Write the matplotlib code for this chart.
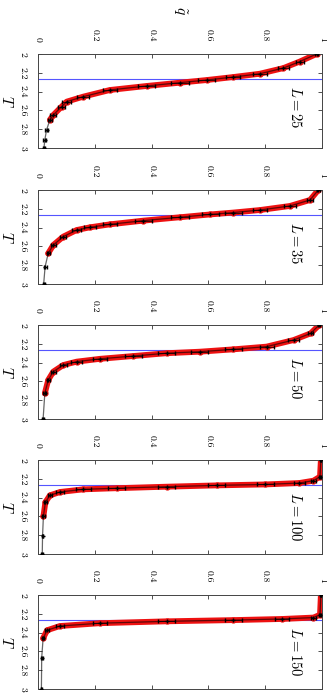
import matplotlib

matplotlib.use("Agg")
import matplotlib.pyplot as plt

plt.rcParams["mathtext.fontset"] = "cm"
plt.rcParams["font.family"] = "serif"
plt.rcParams["font.serif"] = ["cmr10", "DejaVu Serif"]
plt.rcParams["axes.formatter.use_mathtext"] = True

# data: temperature T and overlap q~ for each size L
sizes = [25, 35, 50, 100, 150]
Tc = 2.269

T_25 = [2.0, 2.08, 2.15, 2.21, 2.245, 2.277, 2.305, 2.34, 2.383, 2.454, 2.507, 2.56, 2.649, 2.70, 2.809, 2.915, 3.0]
q_25 = [0.981, 0.922, 0.864, 0.781, 0.688, 0.594, 0.500, 0.383, 0.253, 0.159, 0.101, 0.083, 0.054, 0.042, 0.030, 0.024, 0.021]
e_25 = [0.005, 0.015, 0.02, 0.025, 0.025, 0.03, 0.03, 0.03, 0.025, 0.02, 0.015, 0.012, 0.01, 0.008, 0.006, 0.005, 0.004]

T_35 = [2.0, 2.106, 2.17, 2.213, 2.24, 2.26, 2.29, 2.326, 2.365, 2.397, 2.426, 2.496, 2.585, 2.674, 2.816, 3.0]
q_35 = [0.987, 0.958, 0.887, 0.782, 0.688, 0.606, 0.500, 0.371, 0.254, 0.183, 0.136, 0.089, 0.054, 0.036, 0.025, 0.020]
e_35 = [0.005, 0.012, 0.02, 0.025, 0.03, 0.03, 0.03, 0.03, 0.025, 0.02, 0.015, 0.01, 0.008, 0.006, 0.005, 0.004]

T_50 = [2.0, 2.089, 2.16, 2.23, 2.259, 2.284, 2.30, 2.33, 2.36, 2.39, 2.426, 2.496, 2.585, 2.727, 3.0]
q_50 = [0.990, 0.960, 0.900, 0.805, 0.688, 0.570, 0.453, 0.336, 0.218, 0.136, 0.089, 0.054, 0.036, 0.024, 0.018]
e_50 = [0.004, 0.01, 0.02, 0.025, 0.03, 0.03, 0.03, 0.03, 0.025, 0.02, 0.012, 0.008, 0.006, 0.005, 0.004]

T_100 = [2.0, 2.177, 2.22, 2.245, 2.26, 2.27, 2.284, 2.30, 2.312, 2.34, 2.376, 2.45, 2.6, 2.81, 3.0]
q_100 = [0.996, 0.993, 0.970, 0.920, 0.800, 0.630, 0.453, 0.277, 0.160, 0.078, 0.042, 0.026, 0.019, 0.016, 0.015]
e_100 = [0.002, 0.004, 0.01, 0.02, 0.03, 0.03, 0.03, 0.03, 0.025, 0.015, 0.008, 0.005, 0.004, 0.003, 0.003]

T_150 = [2.0, 2.21, 2.24, 2.255, 2.267, 2.28, 2.30, 2.33, 2.375, 2.46, 2.67, 3.0]
q_150 = [0.996, 0.993, 0.970, 0.860, 0.688, 0.453, 0.218, 0.077, 0.032, 0.018, 0.013, 0.012]
e_150 = [0.002, 0.004, 0.01, 0.025, 0.03, 0.03, 0.025, 0.015, 0.006, 0.004, 0.003, 0.003]

# the red set stops before the end of the hot tail
red_tmax = [2.72, 2.8, 2.75, 2.8, 2.55]

series = [(T_25, q_25, e_25), (T_35, q_35, e_35), (T_50, q_50, e_50),
          (T_100, q_100, e_100), (T_150, q_150, e_150)]

q_ticks = [0, 0.2, 0.4, 0.6, 0.8, 1]
q_labels = ["0", "0.2", "0.4", "0.6", "0.8", "1"]
T_ticks = [2, 2.2, 2.4, 2.6, 2.8, 3]
T_labels = ["2", "2.2", "2.4", "2.6", "2.8", "3"]

W, H = 327, 694
fig = plt.figure(figsize=(W / 100, H / 100), dpi=100)

tops = [54, 190, 325, 460, 595]
left, width, height = 38, 284, 94

for i, (L, (T, q, e), tmax, top) in enumerate(zip(sizes, series, red_tmax, tops)):
    ax = fig.add_axes([left / W, 1 - (top + height) / H, width / W, height / H])
    ax.set_xlim(0, 1)
    ax.set_ylim(3, 2)

    ax.axhline(Tc, color="#5555ff", lw=0.8, zorder=1)

    Tr = [t for t in T if t <= tmax]
    qr = q[: len(Tr)]
    er = e[: len(Tr)]
    ax.plot(qr, Tr, color="#ee1111", lw=4.2, solid_capstyle="round", zorder=2)
    ax.errorbar(qr, Tr, xerr=er, fmt="o", ms=3.5, color="#ee1111", ecolor="#ee1111",
                elinewidth=1.0, capsize=0, zorder=2)
    ax.plot(q, T, color="black", lw=0.9, zorder=3, alpha=0.6)
    ax.errorbar(q, T, xerr=e, fmt="+", ms=3, color="black", ecolor="black",
                elinewidth=0.5, capsize=1.2, zorder=3)

    ax.set_xticks(q_ticks)
    ax.set_xticklabels(q_labels, rotation=-90)
    ax.set_yticks(T_ticks)
    ax.set_yticklabels(T_labels, rotation=-90, va="center")
    ax.tick_params(axis="both", direction="in", length=3, width=0.6,
                   top=True, bottom=True, left=True, right=True, labelsize=7,
                   colors="#333333", labelcolor="black")
    ax.tick_params(axis="x", labeltop=True, labelbottom=False, pad=9)
    ax.tick_params(axis="y", pad=8)
    for s in ax.spines.values():
        s.set_linewidth(0.7)
        s.set_color("#444444")

    ax.text(0.905, 0.66, rf"$L = {L}$", transform=ax.transAxes, rotation=-90,
            ha="center", va="top", fontsize=10.5)
    ax.text(-0.11, 0.5, r"$T$", transform=ax.transAxes, rotation=-90,
            ha="center", va="center", fontsize=11)

    if i == 0:
        ax.text(0.5, 0.46 + 1.0, r"$\tilde{q}$", transform=ax.transAxes,
                rotation=-90, ha="center", va="center", fontsize=11)

fig.savefig("out.png", dpi=100)
